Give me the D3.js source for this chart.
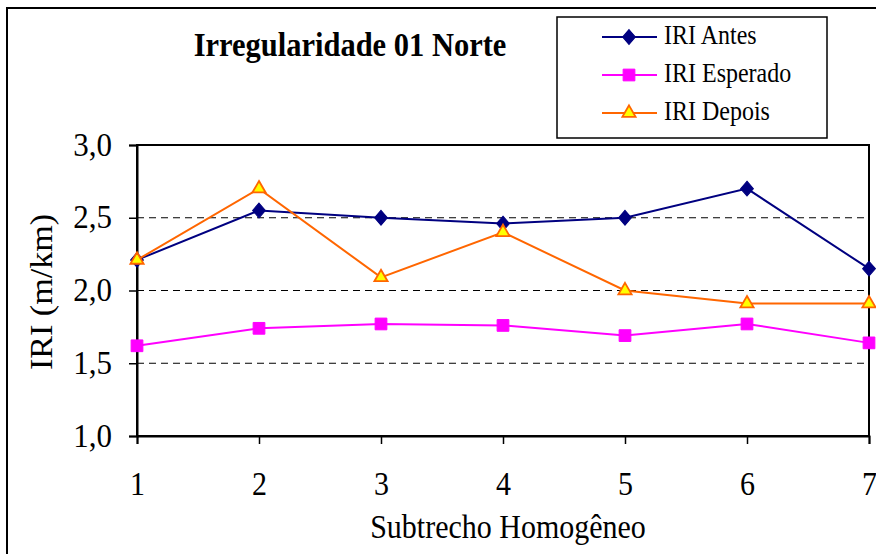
<!DOCTYPE html>
<html><head><meta charset="utf-8">
<script src="https://cdn.jsdelivr.net/npm/d3@7"></script>
<style>
body{margin:0;background:#fff;}
svg text{font-family:"Liberation Serif","Times New Roman",serif;fill:#000;}
</style></head>
<body><svg id="c" width="876" height="554"></svg>
<script>
const categories = [1, 2, 3, 4, 5, 6, 7];
const iriAntes = [2.21, 2.55, 2.50, 2.46, 2.50, 2.70, 2.15];
const iriEsperado = [1.62, 1.74, 1.77, 1.76, 1.69, 1.77, 1.64];
const iriDepois = [2.21, 2.70, 2.09, 2.40, 2.00, 1.91, 1.91];
const yTicks = [1.0, 1.5, 2.0, 2.5, 3.0];
const seriesNames = ["IRI Antes", "IRI Esperado", "IRI Depois"];

const FF = "'Liberation Serif','Times New Roman',serif";
const SY = 1.1; // vertical stretch of the text in the reference
const svg = d3.select("#c");
const L = 137, R = 869, T = 145, B = 436;
const x = d3.scaleLinear().domain([1, 7]).range([L, R]);
const y = d3.scaleLinear().domain([1, 3]).range([B, T]);
const fmt = d => d3.format(".1f")(d).replace(".", ",");

function txt(parent, str, tx, ty, size, anchor, rot, bold) {
  const t = parent.append("text")
    .attr("transform", `translate(${tx},${ty})` + (rot ? ` rotate(${rot})` : "") + (rot ? ` scale(${SY},1)` : ` scale(1,${SY})`))
    .attr("text-anchor", anchor).attr("font-family", FF).style("font-family", FF).style("font-size", size + "px")
    .text(str);
  if (bold) t.style("font-weight", "bold");
  return t;
}

// outer border
svg.append("rect").attr("x", 7).attr("y", 8).attr("width", 880).attr("height", 560)
  .attr("fill", "#fff").attr("stroke", "#000").attr("stroke-width", 2);

// gridlines
svg.append("g").selectAll("line").data(yTicks.filter(d => d > 1 && d < 3)).join("line")
  .attr("x1", L).attr("x2", R).attr("y1", d => y(d)).attr("y2", d => y(d))
  .attr("stroke", "#000").attr("stroke-width", 1).attr("stroke-dasharray", "7,5");

// plot box
svg.append("rect").attr("x", L).attr("y", T).attr("width", R - L).attr("height", B - T)
  .attr("fill", "none").attr("stroke", "#000").attr("stroke-width", 2);

// y axis
const ya = d3.axisLeft(y).tickValues(yTicks).tickFormat(fmt).tickSize(8).tickPadding(17);
const gy = svg.append("g").attr("transform", `translate(${L},0)`).call(ya).attr("font-family", FF);
gy.select(".domain").attr("stroke-width", 2);
gy.selectAll(".tick line").attr("stroke-width", 1.5);
gy.selectAll(".tick text").attr("x", null).attr("dy", null)
  .attr("transform", `translate(-25,10) scale(1,${SY})`)
  .style("font-family", FF).style("font-size", "31px");

// x axis
const xa = d3.axisBottom(x).tickValues(categories).tickFormat(d3.format("d")).tickSize(8).tickPadding(20);
const gx = svg.append("g").attr("transform", `translate(0,${B})`).call(xa).attr("font-family", FF);
gx.select(".domain").attr("stroke-width", 2);
gx.selectAll(".tick line").attr("stroke-width", 1.5);
gx.selectAll(".tick text").attr("y", null).attr("dy", null)
  .attr("transform", `translate(0,59) scale(1,${SY})`)
  .style("font-family", FF).style("font-size", "30px");

// axis titles
txt(svg, "Subtrecho Homogêneo", 508, 538, 30, "middle");
txt(svg, "IRI (m/km)", 52, 292, 31, "middle", -90);

// title
txt(svg, "Irregularidade 01 Norte", 350, 56, 30.5, "middle", 0, true);

const line = d3.line().x((d, i) => x(categories[i])).y(d => y(d));
const sym = {
  diamond: d3.symbol().type(d3.symbolDiamond2).size(115),
  square: d3.symbol().type(d3.symbolSquare2).size(175),
  triangle: d3.symbol().type(d3.symbolTriangle2).size(125)
};
const series = [
  {name: seriesNames[0], data: iriAntes, color: "#000080", fill: "#000080", stroke: "#000080", s: "diamond"},
  {name: seriesNames[1], data: iriEsperado, color: "#FF00FF", fill: "#FF00FF", stroke: "#FF00FF", s: "square"},
  {name: seriesNames[2], data: iriDepois, color: "#FF6600", fill: "#FFFF00", stroke: "#FF6600", s: "triangle"}
];
function drawMarker(g, s, cx, cy) {
  const p = g.append("path").attr("d", sym[s.s]()).attr("transform", `translate(${cx},${cy})`)
    .attr("fill", s.fill).attr("stroke", s.stroke).attr("stroke-width", s.s === "triangle" ? 1.8 : 1);
  if (s.s === "diamond") p.attr("transform", `translate(${cx},${cy}) scale(0.95,1.1)`);
}
// draw order: Esperado, Antes, Depois
[series[1], series[0], series[2]].forEach(s => {
  const g = svg.append("g");
  g.append("path").datum(s.data).attr("d", line).attr("fill", "none")
    .attr("stroke", s.color).attr("stroke-width", 2);
  s.data.forEach((v, i) => drawMarker(g, s, x(categories[i]), y(v)));
});

// legend
const lg = svg.append("g");
lg.append("rect").attr("x", 557).attr("y", 17).attr("width", 270).attr("height", 121)
  .attr("fill", "#fff").attr("stroke", "#000").attr("stroke-width", 1.5);
series.forEach((s, i) => {
  const yy = 37 + i * 38;
  lg.append("line").attr("x1", 602).attr("x2", 657).attr("y1", yy).attr("y2", yy)
    .attr("stroke", s.color).attr("stroke-width", 2);
  drawMarker(lg, s, 629, yy);
  txt(lg, s.name, 664, yy + 7, 24, "start");
});
</script></body></html>
